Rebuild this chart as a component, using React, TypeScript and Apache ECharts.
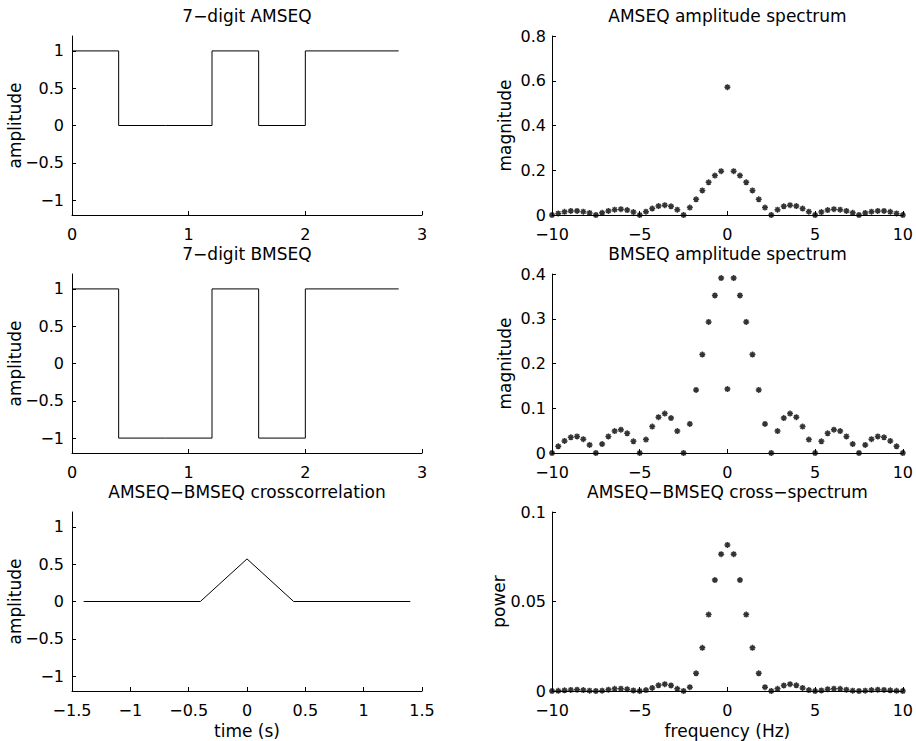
import React, { useEffect, useRef } from "react";
import * as echarts from "echarts";

// ---- data ----
const AMSEQ_DIGITS = [1, 0, 0, 1, 0, 1, 1];
const BMSEQ_DIGITS = [1, -1, -1, 1, -1, 1, 1];
const DIGIT_DURATION = 0.4; // s

const XCORR_TIME = [-1.4, -0.4, 0, 0.4, 1.4];
const XCORR_VALUE = [0, 0, 0.571, 0, 0];

// frequency grid: k / 2.8 Hz, k = -28..28
const FREQ_STEP = 1 / 2.8;
const FREQ_COUNT_HALF = 28;

// one-sided spectra (f = 0 .. 10 Hz), mirrored for negative frequencies
const AM_SPEC_HALF = [
  0.571, 0.196, 0.176, 0.146, 0.11, 0.07, 0.033, 0, 0.024, 0.039, 0.044, 0.04, 0.029, 0.015, 0,
  0.013, 0.022, 0.026, 0.024, 0.018, 0.01, 0, 0.009, 0.015, 0.018, 0.018, 0.014, 0.007, 0,
];
const BM_SPEC_HALF = [
  0.143, 0.391, 0.352, 0.293, 0.22, 0.141, 0.065, 0, 0.049, 0.078, 0.088, 0.08, 0.059, 0.03, 0,
  0.026, 0.044, 0.052, 0.049, 0.037, 0.02, 0, 0.018, 0.031, 0.037, 0.035, 0.027, 0.015, 0,
];
const CROSS_SPEC_HALF = [
  0.0816, 0.0764, 0.062, 0.0427, 0.0241, 0.0099, 0.0021, 0, 0.0012, 0.0031, 0.0038, 0.0032, 0.0017,
  0.0005, 0, 0.0003, 0.001, 0.0013, 0.0012, 0.0007, 0.0002, 0, 0.0002, 0.0005, 0.0007, 0.0006,
  0.0004, 0.0001, 0,
];

const TITLES = [
  "7\u2212digit AMSEQ",
  "AMSEQ amplitude spectrum",
  "7\u2212digit BMSEQ",
  "BMSEQ amplitude spectrum",
  "AMSEQ\u2212BMSEQ crosscorrelation",
  "AMSEQ\u2212BMSEQ cross\u2212spectrum",
];
const Y_NAMES = ["amplitude", "magnitude", "amplitude", "magnitude", "amplitude", "power"];
const X_NAMES = ["", "", "", "", "time (s)", "frequency (Hz)"];
const LEFT_Y_TICKS = [-1, -0.5, 0, 0.5, 1];

// ---- helpers ----
const FONT = "DejaVu Sans";
const FS = 17; // titles, axis names
const FS_TICK = 16; // tick labels
const fmt = (v: number) => {
  const r = Math.round(v * 10000) / 10000;
  return String(r).replace("-", "\u2212");
};
const mirror = (half: number[]) => [...half.slice(1).reverse(), ...half];
const freqs = () => {
  const out: number[] = [];
  for (let k = -FREQ_COUNT_HALF; k <= FREQ_COUNT_HALF; k++) out.push(k * FREQ_STEP);
  return out;
};
const stepData = (digits: number[]) => {
  const pts = digits.map((d, i) => [i * DIGIT_DURATION, d]);
  pts.push([digits.length * DIGIT_DURATION, digits[digits.length - 1]]);
  return pts;
};
const specData = (half: number[]) => {
  const f = freqs();
  const v = mirror(half);
  return f.map((x, i) => [x, v[i]]);
};

const GRID_LEFTS = [72, 552];
const GRID_WIDTHS = [350, 351];
const GRID_TOPS = [36, 274, 512];
const GRID_HEIGHT = 179;
const Y_NAME_GAPS = [49, 39, 49, 39, 49, 45];

const ASTERISK = "path://M5 0L5 10M0 5L10 5M1.5 1.5L8.5 8.5M1.5 8.5L8.5 1.5";

export default function App() {
  const ref = useRef<HTMLDivElement>(null);
  useEffect(() => {
    if (!ref.current) return;
    const chart = echarts.init(ref.current, undefined, { renderer: "svg" });

    const grids: any[] = [];
    const graphics: any[] = [];
    for (let i = 0; i < 6; i++) {
      const col = i % 2;
      const row = Math.floor(i / 2);
      grids.push({
        left: GRID_LEFTS[col],
        top: GRID_TOPS[row],
        width: GRID_WIDTHS[col],
        height: GRID_HEIGHT,
        containLabel: false,
      });
      graphics.push({
        type: "text",
        x: GRID_LEFTS[col] + GRID_WIDTHS[col] / 2,
        y: GRID_TOPS[row] - 20,
        style: {
          text: TITLES[i],
          font: `${FS}px '${FONT}'`,
          fill: "#000",
          textAlign: "center",
          textVerticalAlign: "middle",
        },
      });
    }

    const axisCommon = {
      axisLine: { show: true, onZero: false, lineStyle: { color: "#000", width: 1 } },
      axisTick: { show: true, inside: true, length: 4, lineStyle: { color: "#000", width: 1 } },
      splitLine: { show: false },
      nameTextStyle: { color: "#000", fontFamily: FONT, fontSize: FS },
      nameMoveOverlap: false,
    };
    const labelCommon = {
      color: "#000",
      fontFamily: FONT,
      fontSize: FS_TICK,
      lineHeight: 16,
      formatter: fmt,
    };

    const xRanges = [
      { min: 0, max: 3, interval: 1 },
      { min: -10, max: 10, interval: 5 },
      { min: 0, max: 3, interval: 1 },
      { min: -10, max: 10, interval: 5 },
      { min: -1.5, max: 1.5, interval: 0.5 },
      { min: -10, max: 10, interval: 5 },
    ];
    const yRanges: any[] = [
      { min: -1.2, max: 1.2 },
      { min: 0, max: 0.8, interval: 0.2 },
      { min: -1.2, max: 1.2 },
      { min: 0, max: 0.4, interval: 0.1 },
      { min: -1.2, max: 1.2 },
      { min: 0, max: 0.1, interval: 0.05 },
    ];

    const xAxes = xRanges.map((r, i) => ({
      type: "value",
      gridIndex: i,
      ...r,
      ...axisCommon,
      axisLabel: { ...labelCommon, margin: 11 },
      name: X_NAMES[i],
      nameLocation: "middle",
      nameGap: 31,
    }));
    const yAxes = yRanges.map((r, i) => {
      const isLeft = i % 2 === 0;
      const base: any = {
        type: "value",
        gridIndex: i,
        ...r,
        ...axisCommon,
        axisLabel: { ...labelCommon, margin: isLeft ? 8 : 6 },
        name: Y_NAMES[i],
        nameLocation: "middle",
        nameRotate: 90,
        nameGap: Y_NAME_GAPS[i],
      };
      if (isLeft) {
        base.axisLabel = { ...base.axisLabel, customValues: LEFT_Y_TICKS };
        base.axisTick = { ...base.axisTick, customValues: LEFT_Y_TICKS };
      }
      return base;
    });

    const lineStyle = { color: "#000", width: 1 };
    const scatterCommon = {
      type: "scatter",
      symbol: ASTERISK,
      symbolSize: [6, 6],
      clip: false,
      itemStyle: { color: "#000", borderColor: "#000", borderWidth: 1.5 },
    };

    const series: any[] = [
      {
        type: "line",
        xAxisIndex: 0,
        yAxisIndex: 0,
        step: "end",
        symbol: "none",
        lineStyle,
        data: stepData(AMSEQ_DIGITS),
      },
      { ...scatterCommon, xAxisIndex: 1, yAxisIndex: 1, data: specData(AM_SPEC_HALF) },
      {
        type: "line",
        xAxisIndex: 2,
        yAxisIndex: 2,
        step: "end",
        symbol: "none",
        lineStyle,
        data: stepData(BMSEQ_DIGITS),
      },
      { ...scatterCommon, xAxisIndex: 3, yAxisIndex: 3, data: specData(BM_SPEC_HALF) },
      {
        type: "line",
        xAxisIndex: 4,
        yAxisIndex: 4,
        symbol: "none",
        lineStyle,
        data: XCORR_TIME.map((t, i) => [t, XCORR_VALUE[i]]),
      },
      { ...scatterCommon, xAxisIndex: 5, yAxisIndex: 5, data: specData(CROSS_SPEC_HALF) },
    ];

    chart.setOption({
      animation: false,
      backgroundColor: "#fff",
      textStyle: { fontFamily: FONT },
      grid: grids,
      xAxis: xAxes,
      yAxis: yAxes,
      series,
      graphic: graphics,
    });
    return () => chart.dispose();
  }, []);
  return (
    <div
      ref={ref}
      style={{ position: "absolute", left: 0, top: 0, width: 916, height: 741, background: "#fff" }}
    />
  );
}
